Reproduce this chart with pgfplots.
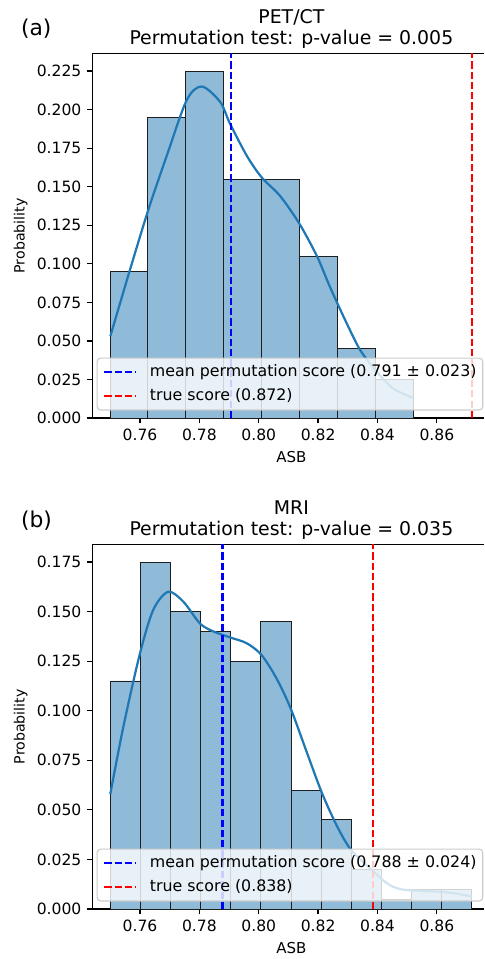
\documentclass[border=0pt]{standalone}
\usepackage{fontspec}
\setmainfont{DejaVu Sans}
\usepackage{pgfplots}
\pgfplotsset{compat=1.18}

\definecolor{histfill}{RGB}{143,187,217}
\definecolor{kdeblue}{RGB}{31,119,180}
\definecolor{legframe}{RGB}{204,204,204}
\definecolor{baredge}{RGB}{30,30,30}

% The source figure is cut at its right edge: the axes end at the page edge,
% without a right spine.
\pgfplotsset{
  permax/.style={
    scale only axis, width=282.1pt, height=262.3pt,
    xmin=0.7439, xmax=0.8759, ymin=0,
    axis x line*=box, axis y line*=left,
    axis line style={black, line width=0.9pt},
    tick align=outside, major tick length=3.8pt,
    tick style={black, line width=0.9pt},
    xtick pos=left, ytick pos=left,
    xtick={0.76,0.78,0.80,0.82,0.84,0.86},
    scaled x ticks=false, scaled y ticks=false,
    /pgf/number format/assume math mode=true,
    ticklabel style={font=\fontsize{11.2}{13}\selectfont},
    xticklabel style={/pgf/number format/fixed, /pgf/number format/fixed zerofill,
      /pgf/number format/precision=2, yshift=-0.6pt},
    yticklabel style={/pgf/number format/fixed, /pgf/number format/fixed zerofill,
      /pgf/number format/precision=3, xshift=-0.5pt},
    xlabel={ASB}, ylabel={Probability},
    every axis x label/.style={at={(rel axis cs:0.5083,0)}, anchor=base, yshift=-31.9pt,
      font=\fontsize{10.8}{13}\selectfont},
    every axis y label/.style={at={(rel axis cs:-0.1826,0.5)}, rotate=90, anchor=center,
      font=\fontsize{10.2}{12}\selectfont},
    legend cell align=left,
    legend image code/.code={\draw[##1] (0pt,0pt) -- (22.8pt,0pt);},
    legend style={at={(1,0)}, anchor=south east, xshift=-0.5pt, yshift=5.4pt,
      fill=white, fill opacity=0.8, text opacity=1, draw=legframe, draw opacity=1,
      line width=0.8pt, rounded corners=2.5pt, inner xsep=4.5pt, inner ysep=4pt,
      font=\fontsize{11.4}{13}\selectfont, row sep=5.7pt, column sep=9.2pt,
      nodes={inner sep=0pt, text height=9pt, text depth=2.8pt}},
  },
  bars/.style={ybar, bar shift=0pt, fill=histfill, draw=baredge, line width=0.7pt, forget plot},
  kde/.style={kdeblue, line width=1.6pt, smooth, forget plot},
  meanline/.style={blue, line width=1.5pt, dash pattern=on 5.2pt off 2.2pt},
  trueline/.style={red, line width=1.5pt, dash pattern=on 5.2pt off 2.2pt},
}

\begin{document}
\begin{tikzpicture}[trim left=0pt, trim right=348.48pt]
\path[use as bounding box] (0,0) rectangle (348.48pt,690.48pt);

% (a) PET/CT
\begin{axis}[permax, name=pa, at={(66.4pt,389.5pt)}, anchor=south west,
  ymax=0.23625,
  ytick={0,0.025,0.05,0.075,0.1,0.125,0.15,0.175,0.2,0.225}]
\addplot[bars, bar width=0.012775] coordinates {
  (0.75629,0.095) (0.76906,0.195) (0.78184,0.225) (0.79461,0.155)
  (0.80739,0.155) (0.82016,0.105) (0.83294,0.045) (0.84571,0.025)
};
\addplot[kde] coordinates {
  (0.7500,0.053) (0.7566,0.096) (0.7628,0.135) (0.7690,0.170) (0.7757,0.206)
  (0.7808,0.215) (0.7870,0.205) (0.7903,0.191) (0.7960,0.170) (0.8010,0.156)
  (0.8072,0.144) (0.8137,0.126) (0.8196,0.105) (0.8240,0.085) (0.8290,0.064)
  (0.8342,0.044) (0.8398,0.030) (0.8454,0.019) (0.8521,0.013)
};
\addplot[meanline] coordinates {(0.7906,0) (0.7906,0.3)};
\addlegendentry{mean permutation score (0.791 ± 0.023)}
\addplot[trueline] coordinates {(0.872,0) (0.872,0.3)};
\addlegendentry{true score (0.872)}
\end{axis}

% (b) MRI
\begin{axis}[permax, name=pb, at={(66.4pt,36pt)}, anchor=south west,
  ymax=0.18375,
  ytick={0,0.025,0.05,0.075,0.1,0.125,0.15,0.175}]
\addplot[bars, bar width=0.010161] coordinates {
  (0.75498,0.115) (0.76514,0.175) (0.77530,0.150) (0.78546,0.140)
  (0.79562,0.125) (0.80579,0.145) (0.81595,0.060) (0.82611,0.045)
  (0.83627,0.020) (0.84643,0.005) (0.85659,0.010) (0.86676,0.010)
};
\addplot[kde] coordinates {
  (0.7500,0.058) (0.7544,0.092) (0.7600,0.129) (0.7645,0.151) (0.7695,0.160)
  (0.7746,0.155) (0.7802,0.144) (0.7847,0.140) (0.7903,0.137) (0.7960,0.134)
  (0.8010,0.128) (0.8061,0.116) (0.8108,0.101) (0.8162,0.079) (0.8213,0.0585)
  (0.8263,0.042) (0.8310,0.030) (0.8375,0.0205) (0.8432,0.013) (0.8477,0.010)
  (0.8544,0.0092) (0.8611,0.0087) (0.8665,0.0078) (0.8718,0.0062)
};
\addplot[meanline] coordinates {(0.7878,0) (0.7878,0.3)};
\addlegendentry{mean permutation score (0.788 ± 0.024)}
\addplot[trueline] coordinates {(0.8385,0) (0.8385,0.3)};
\addlegendentry{true score (0.838)}
\end{axis}

% titles, centred on the full (uncut) axes, and panel letters
\node[anchor=base, inner sep=0pt, font=\fontsize{13.6}{16}\selectfont]
  at (209.8pt,673.7pt) {PET/CT};
\node[anchor=base, inner sep=0pt, font=\fontsize{13.6}{16}\selectfont]
  at (209.8pt,658.1pt) {Permutation test: p-value = 0.005};
\node[anchor=base, inner sep=0pt, font=\fontsize{13.6}{16}\selectfont]
  at (209.8pt,320.2pt) {MRI};
\node[anchor=base, inner sep=0pt, font=\fontsize{13.6}{16}\selectfont]
  at (209.8pt,304.6pt) {Permutation test: p-value = 0.035};
\node[anchor=base west, inner sep=0pt, font=\fontsize{15.7}{18}\selectfont]
  at (15pt,664.9pt) {(a)};
\node[anchor=base west, inner sep=0pt, font=\fontsize{15.7}{18}\selectfont]
  at (15pt,311pt) {(b)};
\end{tikzpicture}
\end{document}
